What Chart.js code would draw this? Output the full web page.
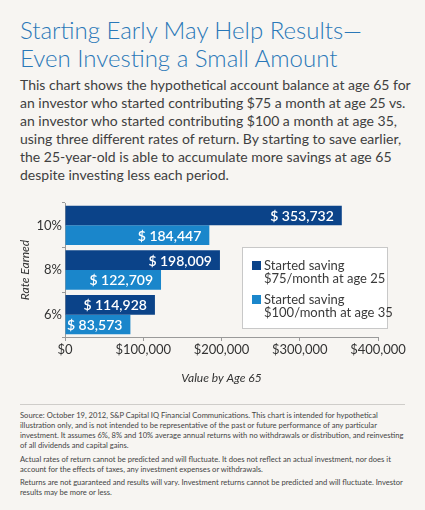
<!DOCTYPE html>
<html>
<head>
<meta charset="utf-8">
<script src="https://cdn.jsdelivr.net/npm/chart.js@4"></script>
<style>
  html, body { margin: 0; padding: 0; }
  body { width: 425px; height: 510px; background: #f7f5f2; position: relative; overflow: hidden; font-family: Lato, sans-serif; }
  .title { position: absolute; left: 20px; top: 16px; font-size: 24px; line-height: 28px; font-weight: 300; color: #2a78b8; white-space: nowrap; }
  .intro { position: absolute; left: 20px; top: 76px; font-size: 14px; line-height: 18px; color: #404040; white-space: nowrap; }
  .chart-box { position: absolute; left: 0; top: 195px; width: 425px; height: 200px; }
  .legend { position: absolute; left: 242px; top: 247px; width: 144px; height: 80px; background: #fff; border: 1px solid #c8c8c8; }
  .legend-item { position: absolute; left: 9px; font-size: 13px; line-height: 13px; color: #3a3a3a; white-space: nowrap; }
  .legend-item .swatch { position: absolute; left: 0; top: 2px; width: 9px; height: 9px; }
  .legend-item .txt { position: absolute; left: 12px; top: 0; }
  .rule { position: absolute; left: 20px; top: 404px; width: 385px; height: 1px; background: #cfcdca; }
  .notes { position: absolute; left: 20px; top: 410px; font-size: 7.6px; line-height: 10px; color: #444; white-space: nowrap; }
  .notes p { margin: 0 0 3.5px 0; }
</style>
</head>
<body>
<div class="title">Starting Early May Help Results—<br>Even Investing a Small Amount</div>
<div class="intro">This chart shows the hypothetical account balance at age 65 for<br>an investor who started contributing $75 a month at age 25 vs.<br>an investor who started contributing $100 a month at age 35,<br>using three different rates of return. By starting to save earlier,<br>the 25-year-old is able to accumulate more savings at age 65<br>despite investing less each period.</div>
<div class="chart-box"><canvas id="chart"></canvas></div>
<div class="legend" id="legend"></div>
<div class="rule"></div>
<div class="notes">
  <p>Source: October 19, 2012, S&amp;P Capital IQ Financial Communications. This chart is intended for hypothetical<br>illustration only, and is not intended to be representative of the past or future performance of any particular<br>investment. It assumes 6%, 8% and 10% average annual returns with no withdrawals or distribution, and reinvesting<br>of all dividends and capital gains.</p>
  <p>Actual rates of return cannot be predicted and will fluctuate. It does not reflect an actual investment, nor does it<br>account for the effects of taxes, any investment expenses or withdrawals.</p>
  <p>Returns are not guaranteed and results will vary. Investment returns cannot be predicted and will fluctuate. Investor<br>results may be more or less.</p>
</div>
<script>
// data
const rates = ['10%', '8%', '6%'];
const startedAt25 = [353732, 198009, 114928];
const startedAt35 = [184447, 122709, 83573];
const seriesNames = [
  ['Started saving', '$75/month at age 25'],
  ['Started saving', '$100/month at age 35']
];
const xTicks = [0, 100000, 200000, 300000, 400000];

const navy = '#0b4389';
const lightBlue = '#1a86cb';

// legend drawn as html, built from the series names
const legendEl = document.getElementById('legend');
[navy, lightBlue].forEach((c, i) => {
  const item = document.createElement('div');
  item.className = 'legend-item';
  item.style.top = (i === 0 ? 11 : 45) + 'px';
  item.innerHTML = '<span class="swatch" style="background:' + c + '"></span>' +
    '<span class="txt">' + seriesNames[i].join('<br>') + '</span>';
  legendEl.appendChild(item);
});

// white value labels at the end of each bar
const barLabels = {
  id: 'barLabels',
  afterDatasetsDraw(chart) {
    const ctx = chart.ctx;
    ctx.save();
    ctx.font = '600 14px Lato';
    ctx.fillStyle = '#fff';
    ctx.textAlign = 'right';
    ctx.textBaseline = 'middle';
    chart.data.datasets.forEach((ds, i) => {
      chart.getDatasetMeta(i).data.forEach((bar, j) => {
        ctx.fillText('$ ' + ds.data[j].toLocaleString('en-US'), bar.x - 8, bar.y + 1);
      });
    });
    ctx.restore();
  }
};

const tickFont = { family: 'Lato', size: 13 };
const titleFont = { family: 'Lato', size: 12, style: 'italic' };

new Chart(document.getElementById('chart'), {
  type: 'bar',
  data: {
    labels: rates,
    datasets: [
      { label: seriesNames[0].join(' '), data: startedAt25, backgroundColor: navy },
      { label: seriesNames[1].join(' '), data: startedAt35, backgroundColor: lightBlue }
    ]
  },
  options: {
    indexAxis: 'y',
    responsive: true,
    maintainAspectRatio: false,
    animation: false,
    categoryPercentage: 0.88,
    barPercentage: 1,
    layout: { padding: { top: 8, right: 47, left: 0, bottom: 0 } },
    plugins: {
      legend: { display: false },
      tooltip: { enabled: false }
    },
    scales: {
      x: {
        min: 0,
        max: 400000,
        afterBuildTicks: s => { s.ticks = xTicks.map(v => ({ value: v })); },
        afterFit: s => { s.height = 58; },
        ticks: {
          color: '#333',
          font: tickFont,
          padding: 1,
          callback: v => '$' + Number(v).toLocaleString('en-US')
        },
        grid: { drawOnChartArea: false, drawTicks: true, tickLength: 4, color: '#9a9a9a' },
        border: { display: true, color: '#9a9a9a' },
        title: {
          display: true,
          text: 'Value by Age 65',
          color: '#333',
          font: titleFont,
          padding: { top: 0, bottom: 10 }
        }
      },
      y: {
        afterFit: s => { s.width = 65; },
        ticks: { color: '#333', font: tickFont, padding: 0 },
        grid: { drawOnChartArea: false, drawTicks: true, tickLength: 3, color: '#9a9a9a', offset: true },
        border: { display: true, color: '#9a9a9a' },
        title: {
          display: true,
          text: 'Rate Earned',
          color: '#333',
          font: titleFont,
          padding: { top: 18, bottom: 18 }
        }
      }
    }
  },
  plugins: [barLabels]
});
</script>
</body>
</html>
